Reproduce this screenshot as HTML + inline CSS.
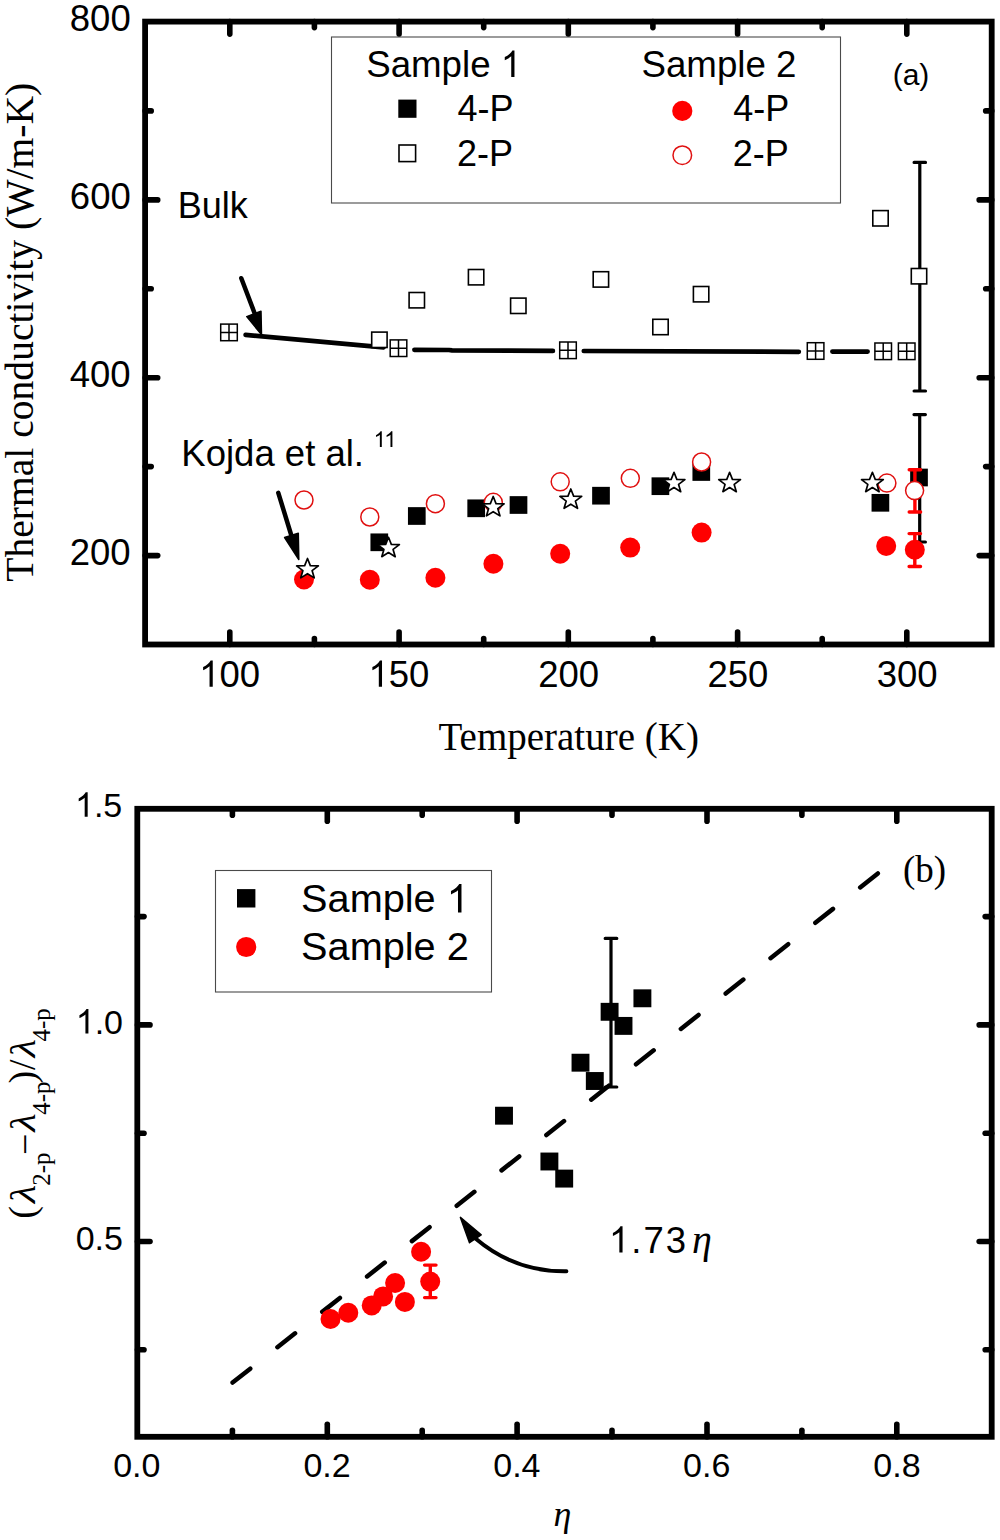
<!DOCTYPE html>
<html><head><meta charset="utf-8"><style>
html,body{margin:0;padding:0;background:#fff;}
svg{display:block;}
.tk{stroke:#000;stroke-width:5.6;stroke-linecap:round;}
</style></head><body>
<svg width="1000" height="1540" viewBox="0 0 1000 1540">
<rect x="145.1" y="21.6" width="846.6" height="622.9" fill="none" stroke="#000" stroke-width="5.8"/>
<line x1="229.8" y1="644.5" x2="229.8" y2="632.0" class="tk"/>
<line x1="229.8" y1="21.6" x2="229.8" y2="34.1" class="tk"/>
<line x1="314.4" y1="644.5" x2="314.4" y2="638.5" class="tk"/>
<line x1="314.4" y1="21.6" x2="314.4" y2="27.6" class="tk"/>
<line x1="399.1" y1="644.5" x2="399.1" y2="632.0" class="tk"/>
<line x1="399.1" y1="21.6" x2="399.1" y2="34.1" class="tk"/>
<line x1="483.7" y1="644.5" x2="483.7" y2="638.5" class="tk"/>
<line x1="483.7" y1="21.6" x2="483.7" y2="27.6" class="tk"/>
<line x1="568.3" y1="644.5" x2="568.3" y2="632.0" class="tk"/>
<line x1="568.3" y1="21.6" x2="568.3" y2="34.1" class="tk"/>
<line x1="652.9" y1="644.5" x2="652.9" y2="638.5" class="tk"/>
<line x1="652.9" y1="21.6" x2="652.9" y2="27.6" class="tk"/>
<line x1="737.6" y1="644.5" x2="737.6" y2="632.0" class="tk"/>
<line x1="737.6" y1="21.6" x2="737.6" y2="34.1" class="tk"/>
<line x1="822.2" y1="644.5" x2="822.2" y2="638.5" class="tk"/>
<line x1="822.2" y1="21.6" x2="822.2" y2="27.6" class="tk"/>
<line x1="906.8" y1="644.5" x2="906.8" y2="632.0" class="tk"/>
<line x1="906.8" y1="21.6" x2="906.8" y2="34.1" class="tk"/>
<line x1="145.2" y1="555.6" x2="157.7" y2="555.6" class="tk"/>
<line x1="991.7" y1="555.6" x2="979.2" y2="555.6" class="tk"/>
<line x1="145.2" y1="466.6" x2="151.2" y2="466.6" class="tk"/>
<line x1="991.7" y1="466.6" x2="985.7" y2="466.6" class="tk"/>
<line x1="145.2" y1="377.7" x2="157.7" y2="377.7" class="tk"/>
<line x1="991.7" y1="377.7" x2="979.2" y2="377.7" class="tk"/>
<line x1="145.2" y1="288.8" x2="151.2" y2="288.8" class="tk"/>
<line x1="991.7" y1="288.8" x2="985.7" y2="288.8" class="tk"/>
<line x1="145.2" y1="199.9" x2="157.7" y2="199.9" class="tk"/>
<line x1="991.7" y1="199.9" x2="979.2" y2="199.9" class="tk"/>
<line x1="145.2" y1="110.9" x2="151.2" y2="110.9" class="tk"/>
<line x1="991.7" y1="110.9" x2="985.7" y2="110.9" class="tk"/>
<text x="69.80" y="30.95" font-family="Liberation Sans" font-size="36.5">800</text>
<text x="69.85" y="209.38" font-family="Liberation Sans" font-size="36.5">600</text>
<text x="69.70" y="387.25" font-family="Liberation Sans" font-size="36.5">400</text>
<text x="69.65" y="565.25" font-family="Liberation Sans" font-size="36.5">200</text>
<text x="199.15" y="686.75" font-family="Liberation Sans" font-size="36.5"><tspan class="one" fill="transparent">1</tspan>00</text>
<text x="368.42" y="686.75" font-family="Liberation Sans" font-size="36.5"><tspan class="one" fill="transparent">1</tspan>50</text>
<text x="538.18" y="686.75" font-family="Liberation Sans" font-size="36.5">200</text>
<text x="707.43" y="686.75" font-family="Liberation Sans" font-size="36.5">250</text>
<text x="876.68" y="686.75" font-family="Liberation Sans" font-size="36.5">300</text>
<rect x="331.5" y="37" width="509" height="166" fill="#fff" stroke="#4a4a4a" stroke-width="1.1"/>
<rect x="398.3" y="99.6" width="18.2" height="18.2" fill="#000"/>
<rect x="399.0" y="145.0" width="16.6" height="16.6" fill="#fff" stroke="#000" stroke-width="1.6"/>
<circle cx="682.3" cy="110.9" r="10.1" fill="#f00"/>
<circle cx="682.3" cy="155.2" r="9.3" fill="#fff" stroke="#e01010" stroke-width="1.5"/>
<text x="366.20" y="76.90" font-family="Liberation Sans" font-size="36.7">Sample <tspan class="one" fill="transparent">1</tspan></text>
<text x="641.50" y="76.90" font-family="Liberation Sans" font-size="36.7">Sample 2</text>
<text x="457.45" y="121.35" font-family="Liberation Sans" font-size="36">4-P</text>
<text x="456.95" y="166.10" font-family="Liberation Sans" font-size="36">2-P</text>
<text x="733.30" y="121.35" font-family="Liberation Sans" font-size="36">4-P</text>
<text x="732.80" y="166.10" font-family="Liberation Sans" font-size="36">2-P</text>
<text x="892.70" y="84.85" font-family="Liberation Sans" font-size="30">(a)</text>
<text x="177.65" y="217.60" font-family="Liberation Sans" font-size="36">Bulk</text>
<text x="181.35" y="465.85" font-family="Liberation Sans" font-size="36.5">Kojda et al.</text>
<text x="373.60" y="447.00" font-family="Liberation Sans" font-size="22"><tspan class="one" fill="transparent">1</tspan><tspan class="one" fill="transparent">1</tspan></text>
<text x="438.5" y="749.5" font-family="Liberation Serif" font-size="39">Temperature (K)</text>
<text transform="translate(33,581.75) rotate(-90)" x="0" y="0" font-family="Liberation Serif" font-size="39.6">Thermal conductivity (W/m-K)</text>
<path d="M245.6 334.9 L383.6 347.4 M414.4 349.8 L449 350 L452 350.4 L552.9 350.9 M583.8 351 L798.8 351.8 M832.4 351.6 L867.6 351.6" stroke="#000" stroke-width="4.7" stroke-linejoin="round" stroke-linecap="round" fill="none"/>
<rect x="220.70" y="324.10" width="16.6" height="16.6" fill="#fff" stroke="#000" stroke-width="1.5"/><path d="M220.70 332.40H237.30M229.00 324.10V340.70" stroke="#000" stroke-width="1.5"/>
<rect x="390.20" y="339.90" width="16.6" height="16.6" fill="#fff" stroke="#000" stroke-width="1.5"/><path d="M390.20 348.20H406.80M398.50 339.90V356.50" stroke="#000" stroke-width="1.5"/>
<rect x="559.70" y="342.00" width="16.6" height="16.6" fill="#fff" stroke="#000" stroke-width="1.5"/><path d="M559.70 350.30H576.30M568.00 342.00V358.60" stroke="#000" stroke-width="1.5"/>
<rect x="807.30" y="342.70" width="16.6" height="16.6" fill="#fff" stroke="#000" stroke-width="1.5"/><path d="M807.30 351.00H823.90M815.60 342.70V359.30" stroke="#000" stroke-width="1.5"/>
<rect x="874.90" y="343.00" width="16.6" height="16.6" fill="#fff" stroke="#000" stroke-width="1.5"/><path d="M874.90 351.30H891.50M883.20 343.00V359.60" stroke="#000" stroke-width="1.5"/>
<rect x="898.40" y="343.00" width="16.6" height="16.6" fill="#fff" stroke="#000" stroke-width="1.5"/><path d="M898.40 351.30H915.00M906.70 343.00V359.60" stroke="#000" stroke-width="1.5"/>
<path d="M241.3 278.2 L254.5 313" stroke="#000" stroke-width="4.5" stroke-linecap="round"/>
<polygon points="246.75,316.6 261,311.2 261.5,334.6" fill="#000" stroke="#000" stroke-width="1.5" stroke-linejoin="round"/>
<path d="M278.3 492.8 L291.2 535" stroke="#000" stroke-width="4.5" stroke-linecap="round"/>
<polygon points="284.6,537.5 298.3,533.3 298.8,559.5" fill="#000" stroke="#000" stroke-width="1.5" stroke-linejoin="round"/>
<path d="M919.80 162.40V391.00M914.10 162.40H925.50M914.10 391.00H925.50" stroke="#000" stroke-width="3.2" stroke-linecap="round" fill="none"/>
<rect x="371.70" y="332.10" width="15.4" height="15.4" fill="#fff" stroke="#000" stroke-width="1.6"/>
<rect x="409.10" y="292.50" width="15.4" height="15.4" fill="#fff" stroke="#000" stroke-width="1.6"/>
<rect x="468.40" y="269.50" width="15.4" height="15.4" fill="#fff" stroke="#000" stroke-width="1.6"/>
<rect x="510.60" y="298.10" width="15.4" height="15.4" fill="#fff" stroke="#000" stroke-width="1.6"/>
<rect x="593.20" y="271.70" width="15.4" height="15.4" fill="#fff" stroke="#000" stroke-width="1.6"/>
<rect x="652.80" y="319.30" width="15.4" height="15.4" fill="#fff" stroke="#000" stroke-width="1.6"/>
<rect x="693.40" y="286.50" width="15.4" height="15.4" fill="#fff" stroke="#000" stroke-width="1.6"/>
<rect x="872.80" y="210.60" width="15.4" height="15.4" fill="#fff" stroke="#000" stroke-width="1.6"/>
<rect x="911.30" y="268.50" width="15.4" height="15.4" fill="#fff" stroke="#000" stroke-width="1.6"/>
<path d="M919.70 414.60V542.00M914.00 414.60H925.40M914.00 542.00H925.40" stroke="#000" stroke-width="3.2" stroke-linecap="round" fill="none"/>
<rect x="370.45" y="533.45" width="17.7" height="17.7" fill="#000"/>
<rect x="407.95" y="507.15" width="17.7" height="17.7" fill="#000"/>
<rect x="467.35" y="499.45" width="17.7" height="17.7" fill="#000"/>
<rect x="509.65" y="496.15" width="17.7" height="17.7" fill="#000"/>
<rect x="592.15" y="486.85" width="17.7" height="17.7" fill="#000"/>
<rect x="651.55" y="477.35" width="17.7" height="17.7" fill="#000"/>
<rect x="692.45" y="463.15" width="17.7" height="17.7" fill="#000"/>
<rect x="871.55" y="493.95" width="17.7" height="17.7" fill="#000"/>
<rect x="910.15" y="468.65" width="17.7" height="17.7" fill="#000"/>
<path d="M914.80 533.60V566.50M909.10 533.60H920.50M909.10 566.50H920.50" stroke="#f00" stroke-width="3.4" stroke-linecap="round" fill="none"/>
<circle cx="304.00" cy="579.50" r="10.0" fill="#f00"/>
<circle cx="369.80" cy="579.80" r="10.0" fill="#f00"/>
<circle cx="435.40" cy="577.80" r="10.0" fill="#f00"/>
<circle cx="493.40" cy="563.80" r="10.0" fill="#f00"/>
<circle cx="560.20" cy="553.80" r="10.0" fill="#f00"/>
<circle cx="630.20" cy="547.60" r="10.0" fill="#f00"/>
<circle cx="701.60" cy="532.60" r="10.0" fill="#f00"/>
<circle cx="886.20" cy="546.00" r="10.0" fill="#f00"/>
<circle cx="914.80" cy="549.70" r="10.0" fill="#f00"/>
<path d="M914.90 469.70V512.00M909.20 469.70H920.60M909.20 512.00H920.60" stroke="#f00" stroke-width="3.4" stroke-linecap="round" fill="none"/>
<circle cx="304.00" cy="500.00" r="9.0" fill="#fff" stroke="#e01010" stroke-width="1.5"/>
<circle cx="369.80" cy="517.00" r="9.0" fill="#fff" stroke="#e01010" stroke-width="1.5"/>
<circle cx="435.40" cy="503.70" r="9.0" fill="#fff" stroke="#e01010" stroke-width="1.5"/>
<circle cx="493.30" cy="502.30" r="9.0" fill="#fff" stroke="#e01010" stroke-width="1.5"/>
<circle cx="560.20" cy="481.80" r="9.0" fill="#fff" stroke="#e01010" stroke-width="1.5"/>
<circle cx="630.30" cy="478.30" r="9.0" fill="#fff" stroke="#e01010" stroke-width="1.5"/>
<circle cx="701.60" cy="462.00" r="9.0" fill="#fff" stroke="#e01010" stroke-width="1.5"/>
<circle cx="886.90" cy="483.10" r="9.0" fill="#fff" stroke="#e01010" stroke-width="1.5"/>
<circle cx="914.60" cy="490.60" r="9.0" fill="#fff" stroke="#e01010" stroke-width="1.5"/>
<polygon points="307.50,558.50 310.33,565.56 318.39,565.89 312.08,570.59 314.23,577.86 307.50,573.70 300.77,577.86 302.92,570.59 296.61,565.89 304.67,565.56" fill="#fff" stroke="#000" stroke-width="1.7" stroke-linejoin="round"/>
<polygon points="388.50,537.30 391.33,544.36 399.39,544.69 393.08,549.39 395.23,556.66 388.50,552.50 381.77,556.66 383.92,549.39 377.61,544.69 385.67,544.36" fill="#fff" stroke="#000" stroke-width="1.7" stroke-linejoin="round"/>
<polygon points="493.20,496.50 496.03,503.56 504.09,503.89 497.78,508.59 499.93,515.86 493.20,511.70 486.47,515.86 488.62,508.59 482.31,503.89 490.37,503.56" fill="#fff" stroke="#000" stroke-width="1.7" stroke-linejoin="round"/>
<polygon points="570.80,489.00 573.63,496.06 581.69,496.39 575.38,501.09 577.53,508.36 570.80,504.20 564.07,508.36 566.22,501.09 559.91,496.39 567.97,496.06" fill="#fff" stroke="#000" stroke-width="1.7" stroke-linejoin="round"/>
<polygon points="674.00,472.30 676.83,479.36 684.89,479.69 678.58,484.39 680.73,491.66 674.00,487.50 667.27,491.66 669.42,484.39 663.11,479.69 671.17,479.36" fill="#fff" stroke="#000" stroke-width="1.7" stroke-linejoin="round"/>
<polygon points="729.60,472.30 732.43,479.36 740.49,479.69 734.18,484.39 736.33,491.66 729.60,487.50 722.87,491.66 725.02,484.39 718.71,479.69 726.77,479.36" fill="#fff" stroke="#000" stroke-width="1.7" stroke-linejoin="round"/>
<polygon points="872.40,472.30 875.23,479.36 883.29,479.69 876.98,484.39 879.13,491.66 872.40,487.50 865.67,491.66 867.82,484.39 861.51,479.69 869.57,479.36" fill="#fff" stroke="#000" stroke-width="1.7" stroke-linejoin="round"/>
<rect x="137.3" y="808.8" width="854.4" height="628" fill="none" stroke="#000" stroke-width="5.8"/>
<line x1="232.4" y1="1436.8" x2="232.4" y2="1430.3" class="tk"/>
<line x1="232.4" y1="808.8" x2="232.4" y2="815.3" class="tk"/>
<line x1="327.3" y1="1436.8" x2="327.3" y2="1424.3" class="tk"/>
<line x1="327.3" y1="808.8" x2="327.3" y2="821.3" class="tk"/>
<line x1="422.2" y1="1436.8" x2="422.2" y2="1430.3" class="tk"/>
<line x1="422.2" y1="808.8" x2="422.2" y2="815.3" class="tk"/>
<line x1="517.1" y1="1436.8" x2="517.1" y2="1424.3" class="tk"/>
<line x1="517.1" y1="808.8" x2="517.1" y2="821.3" class="tk"/>
<line x1="612.0" y1="1436.8" x2="612.0" y2="1430.3" class="tk"/>
<line x1="612.0" y1="808.8" x2="612.0" y2="815.3" class="tk"/>
<line x1="707.0" y1="1436.8" x2="707.0" y2="1424.3" class="tk"/>
<line x1="707.0" y1="808.8" x2="707.0" y2="821.3" class="tk"/>
<line x1="801.9" y1="1436.8" x2="801.9" y2="1430.3" class="tk"/>
<line x1="801.9" y1="808.8" x2="801.9" y2="815.3" class="tk"/>
<line x1="896.8" y1="1436.8" x2="896.8" y2="1424.3" class="tk"/>
<line x1="896.8" y1="808.8" x2="896.8" y2="821.3" class="tk"/>
<line x1="137.5" y1="1349.8" x2="144.0" y2="1349.8" class="tk"/>
<line x1="991.7" y1="1349.8" x2="985.2" y2="1349.8" class="tk"/>
<line x1="137.5" y1="1241.5" x2="150.0" y2="1241.5" class="tk"/>
<line x1="991.7" y1="1241.5" x2="979.2" y2="1241.5" class="tk"/>
<line x1="137.5" y1="1133.2" x2="144.0" y2="1133.2" class="tk"/>
<line x1="991.7" y1="1133.2" x2="985.2" y2="1133.2" class="tk"/>
<line x1="137.5" y1="1024.9" x2="150.0" y2="1024.9" class="tk"/>
<line x1="991.7" y1="1024.9" x2="979.2" y2="1024.9" class="tk"/>
<line x1="137.5" y1="916.6" x2="144.0" y2="916.6" class="tk"/>
<line x1="991.7" y1="916.6" x2="985.2" y2="916.6" class="tk"/>
<text x="75.00" y="816.80" font-family="Liberation Sans" font-size="34"><tspan class="one" fill="transparent">1</tspan>.5</text>
<text x="75.75" y="1033.50" font-family="Liberation Sans" font-size="34"><tspan class="one" fill="transparent">1</tspan>.0</text>
<text x="75.70" y="1250.00" font-family="Liberation Sans" font-size="34">0.5</text>
<text x="113.20" y="1476.80" font-family="Liberation Sans" font-size="34">0.0</text>
<text x="873.30" y="1476.70" font-family="Liberation Sans" font-size="34">0.8</text>
<text x="303.42" y="1476.80" font-family="Liberation Sans" font-size="34">0.2</text>
<text x="493.24" y="1476.80" font-family="Liberation Sans" font-size="34">0.4</text>
<text x="683.06" y="1476.80" font-family="Liberation Sans" font-size="34">0.6</text>
<rect x="215.5" y="870.5" width="276" height="121.5" fill="#fff" stroke="#4a4a4a" stroke-width="1.1"/>
<rect x="237.0" y="889.1" width="18.4" height="18.4" fill="#000"/>
<circle cx="246.2" cy="947.0" r="10.1" fill="#f00"/>
<text x="301.10" y="912.45" font-family="Liberation Sans" font-size="39.7">Sample <tspan class="one" fill="transparent">1</tspan></text>
<text x="301.10" y="960.45" font-family="Liberation Sans" font-size="39.7">Sample 2</text>
<text x="903.00" y="882.00" font-family="Liberation Serif" font-size="37">(b)</text>
<text x="608.95" y="1252.60" font-family="Liberation Sans" font-size="36.5" letter-spacing="2"><tspan class="one" fill="transparent">1</tspan>.73</text>
<text x="691.90" y="1253.05" font-family="Liberation Serif" font-size="40" font-style="italic">η</text>
<text x="553.55" y="1526.30" font-family="Liberation Serif" font-size="36" font-style="italic">η</text>
<path d="M232.6 1382.6 L881.0 871.0" stroke="#000" stroke-width="4.5" stroke-linecap="round" stroke-dasharray="22.5 34.6" fill="none"/>
<path d="M475.5 1238.5 Q515 1272 566.4 1271.3" stroke="#000" stroke-width="4" stroke-linecap="round" fill="none"/>
<polygon points="460.4,1217.4 469.5,1242.7 481.2,1234.9" fill="#000" stroke="#000" stroke-width="1.5" stroke-linejoin="round"/>
<path d="M611.00 938.40V1087.00M605.20 938.40H616.80M605.20 1087.00H616.80" stroke="#000" stroke-width="3.2" stroke-linecap="round" fill="none"/>
<rect x="495.05" y="1106.75" width="17.9" height="17.9" fill="#000"/>
<rect x="540.45" y="1152.55" width="17.9" height="17.9" fill="#000"/>
<rect x="555.25" y="1169.65" width="17.9" height="17.9" fill="#000"/>
<rect x="571.55" y="1053.75" width="17.9" height="17.9" fill="#000"/>
<rect x="585.85" y="1072.05" width="17.9" height="17.9" fill="#000"/>
<rect x="600.65" y="1002.85" width="17.9" height="17.9" fill="#000"/>
<rect x="614.55" y="1016.95" width="17.9" height="17.9" fill="#000"/>
<rect x="633.45" y="989.35" width="17.9" height="17.9" fill="#000"/>
<path d="M430.30 1265.10V1297.60M424.60 1265.10H436.00M424.60 1297.60H436.00" stroke="#f00" stroke-width="3.4" stroke-linecap="round" fill="none"/>
<circle cx="330.50" cy="1319.00" r="10.0" fill="#f00"/>
<circle cx="348.30" cy="1312.80" r="10.0" fill="#f00"/>
<circle cx="371.70" cy="1305.40" r="10.0" fill="#f00"/>
<circle cx="383.10" cy="1296.40" r="10.0" fill="#f00"/>
<circle cx="395.10" cy="1283.00" r="10.0" fill="#f00"/>
<circle cx="404.90" cy="1301.90" r="10.0" fill="#f00"/>
<circle cx="421.10" cy="1251.70" r="10.0" fill="#f00"/>
<circle cx="430.20" cy="1281.60" r="10.0" fill="#f00"/>
<g font-family="Liberation Serif" font-size="38" transform="translate(35,1216.8) rotate(-90)"><text x="-2" y="0">(</text><text transform="translate(13.6,0) scale(1.12,0.95)" font-style="italic">λ</text><text x="31" y="14.5" font-size="25">2-p</text><text x="61.8" y="2.75">−</text><text transform="translate(85.1,0) scale(1.12,0.95)" font-style="italic">λ</text><text x="102" y="14.5" font-size="25">4-p</text><text x="133.2" y="0">)</text><text x="146.7" y="0">/</text><text transform="translate(159.4,0) scale(1.12,0.95)" font-style="italic">λ</text><text x="175.3" y="14.5" font-size="25">4-p</text></g>
<g fill="#000"><path transform="translate(199.15,686.75) scale(0.017822,-0.017822)" d="M763 0L583 0L583 1147Q518 1085 412 1023Q306 961 222 930L222 1104Q373 1175 486 1276Q599 1377 646 1472L763 1472Z"/><path transform="translate(368.42,686.75) scale(0.017822,-0.017822)" d="M763 0L583 0L583 1147Q518 1085 412 1023Q306 961 222 930L222 1104Q373 1175 486 1276Q599 1377 646 1472L763 1472Z"/><path transform="translate(500.79,76.90) scale(0.017920,-0.017920)" d="M763 0L583 0L583 1147Q518 1085 412 1023Q306 961 222 930L222 1104Q373 1175 486 1276Q599 1377 646 1472L763 1472Z"/><path transform="translate(373.60,447.00) scale(0.010742,-0.010742)" d="M763 0L583 0L583 1147Q518 1085 412 1023Q306 961 222 930L222 1104Q373 1175 486 1276Q599 1377 646 1472L763 1472Z"/><path transform="translate(384.21,447.00) scale(0.010742,-0.010742)" d="M763 0L583 0L583 1147Q518 1085 412 1023Q306 961 222 930L222 1104Q373 1175 486 1276Q599 1377 646 1472L763 1472Z"/><path transform="translate(75.00,816.80) scale(0.016602,-0.016602)" d="M763 0L583 0L583 1147Q518 1085 412 1023Q306 961 222 930L222 1104Q373 1175 486 1276Q599 1377 646 1472L763 1472Z"/><path transform="translate(75.75,1033.50) scale(0.016602,-0.016602)" d="M763 0L583 0L583 1147Q518 1085 412 1023Q306 961 222 930L222 1104Q373 1175 486 1276Q599 1377 646 1472L763 1472Z"/><path transform="translate(446.69,912.45) scale(0.019385,-0.019385)" d="M763 0L583 0L583 1147Q518 1085 412 1023Q306 961 222 930L222 1104Q373 1175 486 1276Q599 1377 646 1472L763 1472Z"/><path transform="translate(608.95,1252.60) scale(0.017822,-0.017822)" d="M763 0L583 0L583 1147Q518 1085 412 1023Q306 961 222 930L222 1104Q373 1175 486 1276Q599 1377 646 1472L763 1472Z"/></g>
</svg>
</body></html>
